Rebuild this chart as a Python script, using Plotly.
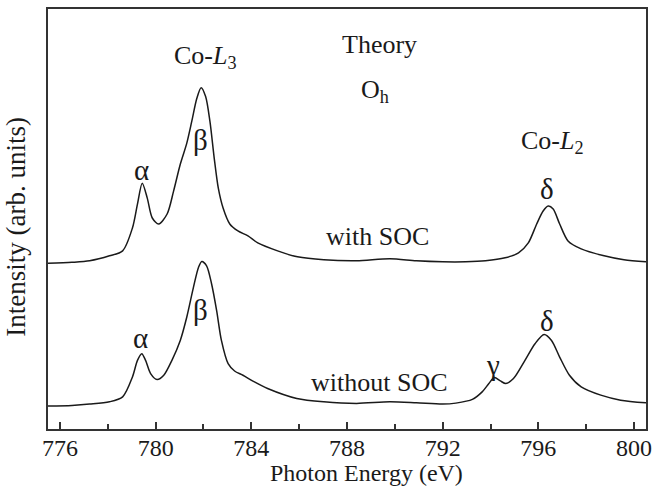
import plotly.graph_objects as go

# Photon energy grid (eV) and calculated Co-L2,3 XAS intensities (arb. units, offset)
energy_soc = [775.5, 776.5, 777.24, 778.07, 778.62, 779.03, 779.24, 779.44, 779.65, 779.86,
              780.13, 780.48, 780.75, 781.03, 781.30, 781.51, 781.72, 781.90, 782.09, 782.27,
              782.45, 782.62, 782.82, 783.10, 783.44, 783.86, 784.27, 785.10, 785.93, 787.03,
              788.40, 789.79, 790.90, 792.00, 792.96, 793.79, 794.61, 795.17, 795.58, 795.93,
              796.20, 796.41, 796.62, 796.89, 797.24, 797.79, 798.75, 799.58, 800.50]
intensity_soc = [1.665, 1.675, 1.69, 1.74, 1.79, 2.02, 2.26, 2.47, 2.32, 2.12,
                 2.06, 2.16, 2.39, 2.66, 2.87, 3.09, 3.32, 3.43, 3.34, 3.09,
                 2.72, 2.42, 2.22, 2.06, 1.99, 1.94, 1.87, 1.79, 1.73, 1.70,
                 1.69, 1.71, 1.69, 1.68, 1.68, 1.69, 1.72, 1.77, 1.87, 2.06,
                 2.19, 2.24, 2.21, 2.06, 1.89, 1.81, 1.74, 1.70, 1.68]

energy_nosoc = [775.5, 776.5, 777.24, 778.07, 778.62, 779.03, 779.24, 779.42, 779.58, 779.79,
                780.06, 780.34, 780.68, 781.03, 781.30, 781.58, 781.79, 781.93, 782.13, 782.34,
                782.55, 782.75, 783.03, 783.30, 783.65, 784.13, 784.68, 785.90, 787.03, 788.40,
                789.79, 790.90, 792.00, 792.55, 793.24, 793.65, 793.93, 794.16, 794.41, 794.64,
                794.96, 795.44, 795.86, 796.24, 796.55, 796.89, 797.30, 797.79, 798.61, 799.44,
                800.50]
intensity_nosoc = [0.23, 0.237, 0.25, 0.273, 0.323, 0.523, 0.69, 0.757, 0.69, 0.557,
                   0.497, 0.54, 0.69, 0.89, 1.123, 1.423, 1.623, 1.683, 1.64, 1.457,
                   1.19, 0.89, 0.657, 0.583, 0.54, 0.473, 0.407, 0.307, 0.273, 0.257,
                   0.273, 0.263, 0.25, 0.26, 0.297, 0.373, 0.457, 0.517, 0.483, 0.457,
                   0.507, 0.69, 0.857, 0.95, 0.89, 0.723, 0.54, 0.423, 0.34, 0.29,
                   0.263]

x_ticks = [776, 780, 784, 788, 792, 796, 800]

FONT = "'Liberation Serif', 'Times New Roman', Times, serif"
INK = "#1a1a1a"

fig = go.Figure()
for xs, ys in [(energy_soc, intensity_soc), (energy_nosoc, intensity_nosoc)]:
    fig.add_trace(go.Scatter(
        x=xs, y=ys, mode="lines",
        line=dict(color=INK, width=1.5, shape="spline", smoothing=0.8),
        showlegend=False, hoverinfo="skip",
    ))

# Peak and panel labels (text, x, y, size)
labels = [
    ("α", 779.39, 2.60, 29),
    ("β", 781.87, 2.90, 29),
    ("Co-<i>L</i><sub>3</sub>", 782.08, 3.74, 26),
    ("Theory", 789.36, 3.86, 26),
    ("O<sub>h</sub>", 789.15, 3.40, 26),
    ("Co-<i>L</i><sub>2</sub>", 796.6, 2.88, 26),
    ("δ", 796.35, 2.41, 29),
    ("with SOC", 789.28, 1.93, 26),
    ("without SOC", 789.36, 0.47, 26),
    ("γ", 794.12, 0.64, 29),
    ("δ", 796.35, 1.09, 29),
    ("α", 779.35, 0.91, 29),
    ("β", 781.87, 1.20, 29),
]
for text, x, y, size in labels:
    fig.add_annotation(x=x, y=y, text=text, showarrow=False,
                       xanchor="center", yanchor="middle",
                       font=dict(family=FONT, size=size, color=INK))

# Axis titles
fig.add_annotation(xref="paper", yref="paper", x=0.533, y=-0.137,
                   text="Photon Energy (eV)", showarrow=False,
                   xanchor="center", yanchor="bottom", borderpad=0,
                   font=dict(family=FONT, size=24, color=INK))
fig.add_annotation(xref="paper", yref="paper", x=-0.054, y=0.481,
                   text="Intensity (arb. units)", showarrow=False, textangle=-90,
                   xanchor="center", yanchor="middle", borderpad=0,
                   font=dict(family=FONT, size=27, color=INK))

fig.update_layout(
    width=659, height=487,
    margin=dict(l=48, r=7, t=7, b=58),
    paper_bgcolor="white", plot_bgcolor="white",
    font=dict(family=FONT, color=INK),
    xaxis=dict(
        range=[775.5, 800.5], tickmode="array", tickvals=x_ticks,
        ticktext=[str(t) for t in x_ticks],
        ticks="inside", ticklen=7, tickwidth=1.5, tickcolor="#333",
        ticklabelstandoff=-4,
        showline=True, linecolor="#333", linewidth=1.5, mirror=True,
        showgrid=False, zeroline=False,
        tickfont=dict(family=FONT, size=24, color=INK),
        minor=dict(tickvals=[778, 782, 786, 790, 794, 798], ticks="inside",
                   ticklen=5, tickwidth=1.5, tickcolor="#333", showgrid=False),
    ),
    yaxis=dict(
        range=[0, 4.22], showticklabels=False, ticks="",
        showline=True, linecolor="#333", linewidth=1.5, mirror=True,
        showgrid=False, zeroline=False,
    ),
)

fig.write_html("out.html")
